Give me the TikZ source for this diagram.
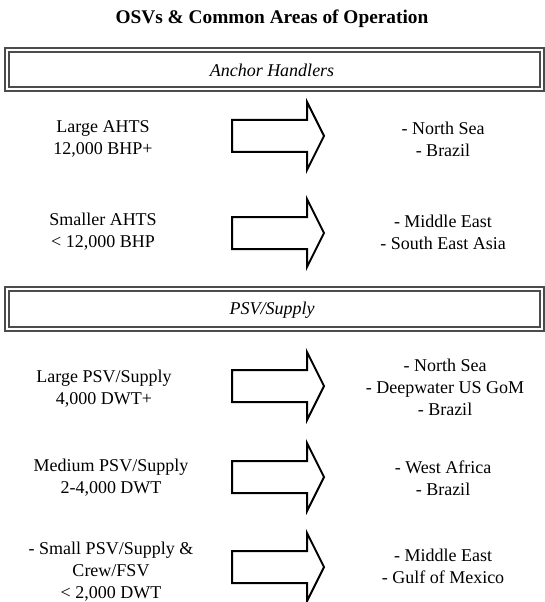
\documentclass[tikz,border=0pt]{standalone}
\usepackage{fontspec}
\setmainfont{Liberation Serif}
\tikzset{
  banner/.style={draw=black!70, double=white, double distance=2.2pt, line width=0.9pt},
  bannertext/.style={font=\fontsize{13.5}{16.5}\selectfont\itshape},
  vessel/.style={align=center, font=\fontsize{13.5}{16.5}\selectfont},
  region/.style={align=center, font=\fontsize{13.5}{16.5}\selectfont},
  blockarrow/.style={draw, line width=1.5pt, line join=miter}
}
% block arrow centred on a given height
\newcommand{\osvarrow}[1]{%
  \draw[blockarrow] (232,#1-16) -- (307,#1-16) -- (307,#1-34) -- (324,#1)
    -- (307,#1+34) -- (307,#1+16) -- (232,#1+16) -- cycle;}
\begin{document}
\begin{tikzpicture}[x=0.75pt,y=-0.75pt]
                \useasboundingbox (0,0) rectangle (544,602);

                % Title
                \node[font=\fontsize{14.5}{17}\selectfont\bfseries] (title) at (272,19) {OSVs \& Common Areas of Operation};

                % Anchor handlers banner
                \draw[banner] (7,50) rectangle (542,89);
                \node[bannertext] (anchor) at (272,70) {Anchor Handlers};

                % Large AHTS
                \node[vessel] (largeahts) at (103,139) {Large AHTS\\12,000 BHP+};
                \osvarrow{136}
                \node[region] (largeahtsarea) at (443,139) {- North Sea\\- Brazil};

                % Smaller AHTS
                \node[vessel] (smallahts) at (103,232) {Smaller AHTS\\< 12,000 BHP};
                \osvarrow{233}
                \node[region] (smallahtsarea) at (443,232) {- Middle East\\- South East Asia};

                % PSV/Supply banner
                \draw[banner] (7,289) rectangle (542,329);
                \node[bannertext] (supply) at (272,310) {PSV/Supply};

                % Large PSV
                \node[vessel] (largepsv) at (104,389) {Large PSV/Supply\\4,000 DWT+};
                \osvarrow{386}
                \node[region] (largepsvarea) at (445,387) {- North Sea\\- Deepwater US GoM\\- Brazil};

                % Medium PSV
                \node[vessel] (mediumpsv) at (111,478) {Medium PSV/Supply\\2-4,000 DWT};
                \osvarrow{477}
                \node[region] (mediumpsvarea) at (443,478) {- West Africa\\- Brazil};

                % Small PSV and crew boats
                \node[vessel] (smallpsv) at (111,572) {- Small PSV/Supply \&\\Crew/FSV\\< 2,000 DWT};
                \osvarrow{567}
                \node[region] (smallpsvarea) at (443,566) {- Middle East\\- Gulf of Mexico};

            \end{tikzpicture}
\end{document}
